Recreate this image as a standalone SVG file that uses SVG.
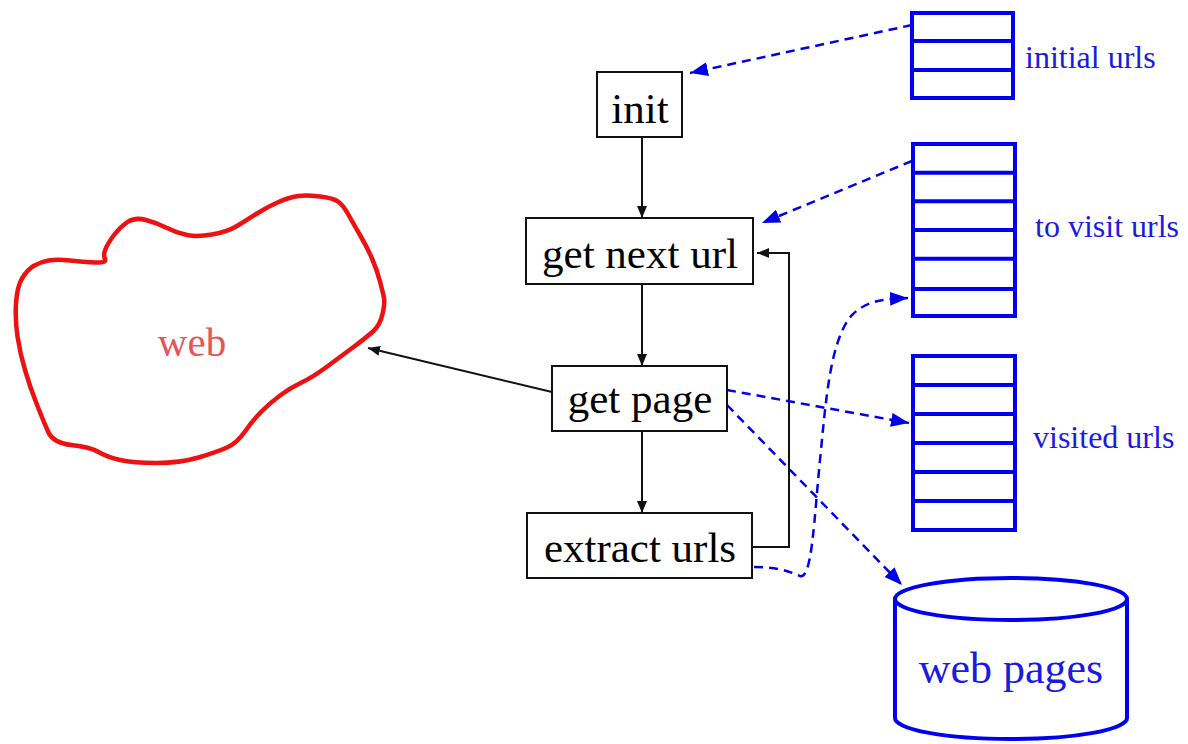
<svg xmlns="http://www.w3.org/2000/svg" width="1188" height="744" viewBox="0 0 1188 744">
<style>
.box{fill:#fff;stroke:#111;stroke-width:2}
.btxt{font-family:"Liberation Serif","Times New Roman",serif;font-size:43px;fill:#000;text-anchor:middle}
.stack{fill:#fff;stroke:#0000f0;stroke-width:4}
.row{stroke:#0000f0;stroke-width:4}
.lbl{font-family:"Liberation Serif","Times New Roman",serif;font-size:32px;fill:#1a1ae0}
.solid{fill:none;stroke:#111;stroke-width:2}
.dash{fill:none;stroke:#0000e8;stroke-width:2.5;stroke-dasharray:9 6}
</style>
<defs>
<marker id="ah" markerUnits="userSpaceOnUse" markerWidth="12" markerHeight="10" refX="12" refY="5" orient="auto">
<path d="M0,0 L12,5 L0,10 z" fill="#111"/>
</marker>
<marker id="bh" markerUnits="userSpaceOnUse" markerWidth="18" markerHeight="14" refX="18" refY="7" orient="auto">
<path d="M0,0 L18,7 L0,14 z" fill="#0000e8"/>
</marker>
</defs>

<g id="web">
<path d="M95,262.5 Q107,263 105,259 Q103,255 105.5,249 Q108,243 114,235 Q120,227 127.5,222 Q135,217 146,220 Q157,223 167,228 Q177,233 187,235 Q197,237 212,234.5 Q227,232 237,226 Q247,220 257,213.5 Q267,207 278.5,202 Q290,197 298.5,196 Q307,195 320,196.5 Q333,198 338,201.5 Q343,205 348,214 Q353,223 360,235 Q367,247 372,258.5 Q377,270 380,281.5 Q383,293 384,298 Q385,303 382.5,314 Q380,325 373.5,331 Q367,337 353.5,347 Q340,357 326.5,367 Q313,377 301.5,382.5 Q290,388 280,395.5 Q270,403 261.5,411.5 Q253,420 245,431.5 Q237,443 227,447.5 Q217,452 198.5,457.5 Q180,463 156.5,463 Q133,463 120,460 Q107,457 98.5,452 Q90,447 71.5,445 Q53,443 48,431.5 Q43,420 36.5,403.5 Q30,387 25,370 Q20,353 17.5,336.5 Q15,320 16,303.5 Q17,287 22,278.5 Q27,270 33.5,266 Q40,262 48.5,260.5 Q57,259 70,260.5 Q83,262 95,262.5 Z" fill="#fff" stroke="#ee1111" stroke-width="4.5" stroke-linejoin="round"/>
<text x="192" y="356" style="font-family:'Liberation Serif','Times New Roman',serif;font-size:41px;fill:#e65555;text-anchor:middle">web</text>
</g>

<g id="connectors">
<path class="solid" d="M642,137 L642,218" marker-end="url(#ah)"/>
<path class="solid" d="M642,284 L642,366" marker-end="url(#ah)"/>
<path class="solid" d="M642,431 L642,513" marker-end="url(#ah)"/>
<path class="solid" d="M752,547 H789 V253 H757" marker-end="url(#ah)"/>
<path class="solid" d="M552,392 L368,348" marker-end="url(#ah)"/>
<path class="dash" d="M912,25 L690,73" marker-end="url(#bh)"/>
<path class="dash" d="M912,161 L762,223" marker-end="url(#bh)"/>
<path class="dash" d="M754,567 C780,567 790,572 800,576 C812,580 814,520 820,460 C826,400 830,340 852,315 C867,300 885,299 908,298" marker-end="url(#bh)"/>
<path class="dash" d="M727,390 L909,423" marker-end="url(#bh)"/>
<path class="dash" d="M727,405 L902,585" marker-end="url(#bh)"/>
</g>

<g id="init">
<rect class="box" x="597" y="72" width="85" height="65"/>
<text class="btxt" x="640" y="123">init</text>
</g>
<g id="get-next-url">
<rect class="box" x="526" y="218" width="227" height="66"/>
<text class="btxt" x="640" y="268">get next url</text>
</g>
<g id="get-page">
<rect class="box" x="552" y="366" width="175" height="65"/>
<text class="btxt" x="640" y="413">get page</text>
</g>
<g id="extract-urls">
<rect class="box" x="527" y="513" width="225" height="65"/>
<text class="btxt" x="640" y="562">extract urls</text>
</g>

<g id="initial-urls">
<rect class="stack" x="912" y="13" width="101" height="85"/>
<path class="row" d="M912,41 H1013 M912,70 H1013"/>
<text class="lbl" x="1025" y="68">initial urls</text>
</g>
<g id="to-visit-urls">
<rect class="stack" x="913" y="144" width="102" height="172"/>
<path class="row" d="M913,172.7 H1015 M913,201.3 H1015 M913,230 H1015 M913,258.7 H1015 M913,289 H1015"/>
<text class="lbl" x="1035" y="237">to visit urls</text>
</g>
<g id="visited-urls">
<rect class="stack" x="913" y="356" width="102" height="174"/>
<path class="row" d="M913,385 H1015 M913,414 H1015 M913,443 H1015 M913,472 H1015 M913,501 H1015"/>
<text class="lbl" x="1033" y="448">visited urls</text>
</g>
<g id="web-pages">
<path d="M895,599 V718 A116,21 0 0 0 1127,718 V599" fill="#fff" stroke="#0000f0" stroke-width="4"/>
<ellipse cx="1011" cy="599" rx="116" ry="21" fill="#fff" stroke="#0000f0" stroke-width="4"/>
<text x="1011" y="683" style="font-family:'Liberation Serif','Times New Roman',serif;font-size:44px;fill:#1a1ae0;text-anchor:middle">web pages</text>
</g>
</svg>
